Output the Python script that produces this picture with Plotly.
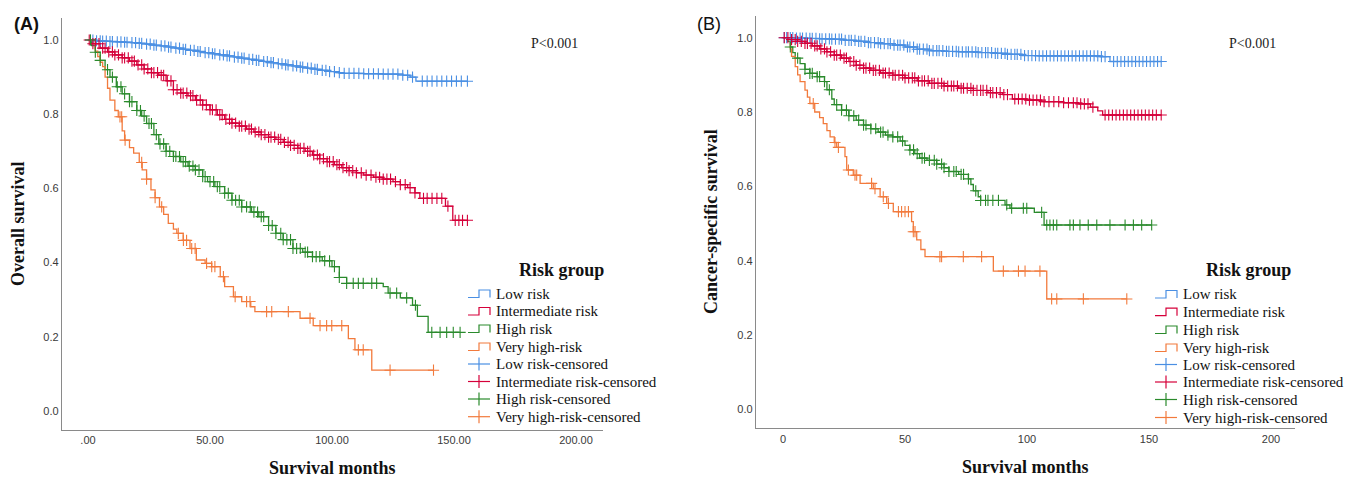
import plotly.graph_objects as go

W, H = 1354, 477

# ---------------- DATA ----------------
# Panel A: Overall survival
a_low_t = [0, 3, 6, 9, 12, 15, 18, 21, 24, 27, 30, 33, 36, 39, 42, 45, 48, 51, 54, 57, 60, 63, 66, 69, 72, 75, 78,
           81, 84, 87, 90, 93, 96, 99, 102, 105, 113, 121, 129, 132, 134.4]
a_low_s = [1.0, 0.998, 0.997, 0.996, 0.995, 0.994, 0.993, 0.991, 0.989, 0.986, 0.984, 0.981, 0.978, 0.975, 0.972,
           0.969, 0.966, 0.963, 0.960, 0.957, 0.954, 0.951, 0.948, 0.945, 0.942, 0.939, 0.936, 0.933, 0.930, 0.927,
           0.924, 0.921, 0.918, 0.915, 0.912, 0.910, 0.909, 0.908, 0.905, 0.900, 0.889]
a_low_c = [1, 2, 3.5, 5, 6, 7.5, 9, 10, 12, 13.5, 15, 16, 18, 19.5, 21, 22, 24, 25.5, 27, 28, 30, 31.5, 33, 34, 36,
           37.5, 39, 40, 42, 43.5, 45, 46, 48, 49.5, 51, 52, 54, 55.5, 57, 58, 60, 61.5, 63, 64, 66, 67.5, 69, 70, 72,
           73.5, 75, 76, 78, 79.5, 81, 82, 84, 85.5, 87, 88, 90, 91.5, 93, 94, 96, 97.5, 99, 101, 103, 105, 107, 109,
           111, 113, 115, 117, 119, 121, 123, 125, 127, 129, 131, 133, 137, 139, 141, 143, 145, 147, 149, 151, 153,
           155.5]

a_int_t = [0, 2, 5, 8, 11, 14, 17, 20, 23, 26, 29, 32, 35, 38, 41, 44, 47, 50, 53, 56, 59, 62, 65, 68, 71, 74, 77,
           80, 83, 86, 89, 92, 95, 98, 101, 104, 107, 110, 113, 117, 121, 125, 128, 131, 134, 136, 146.5, 149.5]
a_int_s = [1.0, 0.99, 0.978, 0.968, 0.96, 0.952, 0.943, 0.933, 0.922, 0.912, 0.905, 0.89, 0.866, 0.857, 0.85, 0.838,
           0.825, 0.812, 0.798, 0.786, 0.776, 0.768, 0.76, 0.752, 0.745, 0.738, 0.732, 0.724, 0.716, 0.708, 0.700,
           0.69, 0.68, 0.672, 0.664, 0.656, 0.648, 0.642, 0.636, 0.63, 0.625, 0.618, 0.61, 0.602, 0.588, 0.573,
           0.552, 0.514]
a_int_c = [0.5, 2, 3, 4.5, 6, 7, 8.5, 10, 11, 12.5, 14, 15, 16.5, 18, 19, 20.5, 22, 23, 24.5, 26, 27, 28.5, 30, 31,
           32.5, 34, 35, 36.5, 38, 39, 40.5, 42, 43, 44.5, 46, 47, 48.5, 50, 51, 52.5, 54, 55, 56.5, 58, 59, 60.5, 62,
           63, 64.5, 66, 67, 68.5, 70, 71, 72.5, 74, 75, 76.5, 78, 79, 80.5, 82, 83, 84.5, 86, 87, 88.5, 90, 91, 92.5,
           94, 95, 96.5, 98, 99, 100.5, 102, 103, 104.5, 106, 107, 108.5, 110, 112, 114, 116, 118, 119.5, 121, 122.5,
           124, 126, 128, 130, 132, 134, 137.5, 139, 141, 143, 145, 147.5, 150.5, 152, 153.5, 155.5]

a_high_t = [0, 1.5, 3, 5, 7, 9, 11.6, 14, 17, 20, 22, 24, 27, 29, 32, 35, 38, 41, 44, 47, 49, 52, 56, 59, 63, 67,
            70, 74, 77, 80, 84, 88, 92, 96, 100, 103, 106, 121, 123, 128, 133, 135, 139.4]
a_high_s = [1.0, 0.985, 0.967, 0.945, 0.92, 0.9, 0.874, 0.855, 0.834, 0.81, 0.795, 0.775, 0.745, 0.72, 0.70, 0.686,
            0.672, 0.66, 0.65, 0.632, 0.618, 0.605, 0.587, 0.568, 0.55, 0.536, 0.524, 0.5, 0.479, 0.462, 0.438,
            0.428, 0.416, 0.405, 0.389, 0.36, 0.344, 0.335, 0.318, 0.305, 0.285, 0.255, 0.212]
a_high_c = [1, 3, 5, 8, 10, 12, 13.5, 15, 17, 18, 20, 21.5, 23, 25, 26, 28, 29.5, 31, 32, 33.5, 35, 36, 37.5, 39, 40,
            41.5, 43, 44, 45.5, 47, 48, 50, 51.5, 53, 54, 56, 57.5, 59, 60.5, 62, 63, 65, 66.5, 68, 69.5, 71, 72, 74,
            75.5, 77, 79, 80, 81.5, 83, 84, 85.5, 87, 89, 90, 92, 93.5, 95, 97, 99, 101, 103, 106, 108.7, 110.8,
            112.8, 116.3, 118.3, 123.8, 126.5, 130.6, 134.2, 140.9, 144.3, 147, 149.7, 152.5]

a_vh_t = [0, 3, 4, 5, 6, 7, 8, 9, 11, 12.4, 14, 15, 17, 18.7, 21, 22.2, 24, 25.8, 27.5, 29.3, 31, 32.9, 35, 36.4,
          39, 41.8, 44.4, 48, 50.7, 54.2, 56, 59.6, 63, 66.7, 68.4, 86.9, 92.3, 106.7, 109.4, 116.3]
a_vh_s = [1.0, 0.97, 0.955, 0.94, 0.928, 0.9, 0.87, 0.838, 0.81, 0.793, 0.755, 0.73, 0.71, 0.695, 0.67, 0.65, 0.625,
          0.596, 0.575, 0.55, 0.53, 0.506, 0.49, 0.479, 0.46, 0.438, 0.407, 0.398, 0.389, 0.362, 0.335, 0.308, 0.295,
          0.281, 0.268, 0.25, 0.23, 0.195, 0.165, 0.11]
a_vh_c = [13.1, 13.8, 15.2, 22, 24, 27.5, 30.2, 37, 39.1, 40.4, 42.5, 43.9, 48.6, 50.7, 52, 55.5, 60.3, 65, 66.4,
          73.2, 75.3, 82.1, 91, 95.1, 97.8, 99.9, 104, 110.8, 112.8, 123.8, 141.6]

# Panel B: Cancer-specific survival
b_low_t = [0, 5, 10, 15, 20, 25, 30, 35, 40, 45, 50, 55, 60, 66, 72, 80, 86, 92, 98, 105, 130, 134]
b_low_s = [1.0, 0.999, 0.998, 0.997, 0.996, 0.993, 0.99, 0.987, 0.984, 0.98, 0.975, 0.969, 0.965, 0.963, 0.962,
           0.96, 0.958, 0.955, 0.952, 0.951, 0.949, 0.936]
b_low_c = [0.5, 1.5, 3, 4, 5.5, 7, 8, 9.5, 11, 12, 13.5, 15, 16, 17.5, 19, 20, 21.5, 23, 24, 25.5, 27, 28, 29.5, 31,
           32, 33.5, 35, 36, 37.5, 39, 40, 41.5, 43, 44, 45.5, 47, 48, 49.5, 51, 52, 53.5, 55, 56, 57.5, 59, 60,
           61.5, 63, 64, 65.5, 67, 68, 69.5, 71, 72, 73.5, 75, 76, 77.5, 79, 80, 81.5, 83, 84, 85.5, 87, 88, 89.5,
           91, 92, 93.5, 95, 96, 97.5, 99, 100.5, 102, 103.5, 105, 106.5, 108, 109.5, 111, 112.5, 114, 115.5, 117,
           118.5, 120, 121.5, 123, 124.5, 126, 127.5, 129, 130.5, 132, 135.5, 137, 138.5, 140, 141.5, 143, 144.5,
           146, 147.5, 149, 150.5, 152, 153.5, 155]

b_int_t = [0, 3, 6, 9, 12, 15, 18, 21, 24, 27, 30, 33, 36, 40, 45, 50, 55, 60, 66, 72, 78, 84, 90, 94, 100, 106,
           115, 121, 126, 129, 131]
b_int_s = [1.0, 0.995, 0.99, 0.985, 0.978, 0.97, 0.962, 0.953, 0.945, 0.936, 0.926, 0.918, 0.912, 0.905, 0.899,
           0.892, 0.884, 0.877, 0.87, 0.864, 0.858, 0.852, 0.847, 0.835, 0.832, 0.828, 0.825, 0.822, 0.813, 0.803,
           0.792]
b_int_c = [0.5, 2, 3.5, 5, 6, 7.5, 9, 10, 11.5, 13, 14, 15.5, 17, 18, 19.5, 21, 22, 23.5, 25, 26, 27.5, 29, 30,
           31.5, 33, 34, 35.5, 37, 38, 39.5, 41, 42, 43.5, 45, 46, 47.5, 49, 50, 51.5, 53, 54, 55.5, 57, 58, 59.5,
           61, 62, 63.5, 65, 66, 67.5, 69, 70, 71.5, 73, 74, 75.5, 77, 78, 79.5, 81, 82, 83.5, 85, 86, 87.5, 89, 90.5,
           92, 95, 96.5, 98, 99.5, 101, 102.5, 104, 105.5, 107, 109, 111, 113, 115, 117, 119, 120.5, 122, 123.5, 125,
           127, 132, 133.5, 135, 136.5, 138, 139.5, 141, 142.5, 144, 145.5, 147, 148.5, 150, 151.5, 153, 155]

b_high_t = [0, 2, 3, 4, 5, 7, 9, 11, 14, 17, 18, 20, 21, 24, 27, 30, 33, 36, 39, 42, 45, 48, 50, 52, 54, 56, 59,
            63, 66, 68, 72, 76, 77, 78, 80, 81, 91, 93, 103, 107]
b_high_s = [1.0, 0.99, 0.975, 0.96, 0.945, 0.93, 0.915, 0.904, 0.895, 0.882, 0.86, 0.835, 0.82, 0.805, 0.79, 0.778,
            0.765, 0.755, 0.746, 0.738, 0.733, 0.722, 0.71, 0.698, 0.688, 0.676, 0.67, 0.66, 0.65, 0.64, 0.632,
            0.62, 0.605, 0.588, 0.572, 0.562, 0.55, 0.541, 0.53, 0.496]
b_high_c = [3, 6, 9, 11, 12, 14, 15, 17, 19, 22, 24, 26, 27, 29, 31, 33, 34, 36, 38, 40, 41, 43, 45, 47, 49, 52, 53.5,
            55, 57, 58, 60, 62, 63, 65, 66, 68, 70, 71, 73, 74, 76, 79, 81, 83, 84, 86, 88.3, 91.7, 93.7, 98.5, 99.9,
            106, 108.1, 109.4, 110.8, 112.2, 117.6, 119, 121.7, 125.1, 128.6, 134, 140.2, 143.6, 147, 151.1]

b_vh_t = [0, 3, 3.5, 5, 6, 7, 9, 10, 11, 13, 15, 16.5, 18, 19.3, 21, 22, 25.4, 26.1, 28.8, 31.6, 37, 39.8, 42.5, 45.2,
          52.7, 53.4, 54.8, 56.5, 58.2, 86.2, 108.1]
b_vh_s = [1.0, 0.97, 0.95, 0.922, 0.9, 0.882, 0.859, 0.84, 0.823, 0.8, 0.785, 0.769, 0.75, 0.733, 0.718, 0.705, 0.68,
          0.644, 0.63, 0.608, 0.594, 0.572, 0.554, 0.532, 0.505, 0.478, 0.456, 0.43, 0.411, 0.372, 0.297]
b_vh_c = [12.4, 21.3, 22.7, 26.8, 29.5, 30.2, 36.3, 37.7, 41.1, 43.2, 47.3, 48.6, 50, 51.4, 53.4, 54.1, 64.3, 65,
          73.9, 81.4, 90.3, 96.5, 99.2, 105.3, 110.1, 112.2, 123.1, 140.9]

groups = ["Low risk", "Intermediate risk", "High risk", "Very high-risk"]
censored_labels = ["Low risk-censored", "Intermediate risk-censored", "High risk-censored", "Very high-risk-censored"]
colors = ["#4a8fe3", "#d5003a", "#2a8a2c", "#f27a3c"]

panel_a = [(a_low_t, a_low_s, a_low_c), (a_int_t, a_int_s, a_int_c),
           (a_high_t, a_high_s, a_high_c), (a_vh_t, a_vh_s, a_vh_c)]
panel_b = [(b_low_t, b_low_s, b_low_c), (b_int_t, b_int_s, b_int_c),
           (b_high_t, b_high_s, b_high_c), (b_vh_t, b_vh_s, b_vh_c)]

x_ticks_a = [0, 50, 100, 150, 200]
x_ticktext_a = [".00", "50.00", "100.00", "150.00", "200.00"]
x_ticks_b = [0, 50, 100, 150, 200]
x_ticktext_b = ["0", "50", "100", "150", "200"]
y_ticks = [0.0, 0.2, 0.4, 0.6, 0.8, 1.0]
y_ticktext = ["0.0", "0.2", "0.4", "0.6", "0.8", "1.0"]


def surv_at(times, surv, t):
    val = surv[0]
    for ti, si in zip(times, surv):
        if ti <= t:
            val = si
        else:
            break
    return val


fig = go.Figure()


def add_panel(data, xa, ya):
    # step lines
    for (t, s, c), col in zip(data, colors):
        end = max(c[-1], t[-1])
        fig.add_trace(go.Scatter(x=list(t) + [end], y=list(s) + [s[-1]], mode="lines",
                                 line=dict(color=col, width=1.3, shape="hv"),
                                 xaxis=xa, yaxis=ya, showlegend=False, hoverinfo="skip"))
    # censor marks
    for (t, s, c), col in zip(data, colors):
        cy = [surv_at(t, s, ci) for ci in c]
        fig.add_trace(go.Scatter(x=c, y=cy, mode="markers",
                                 marker=dict(symbol="cross-thin", size=8, line=dict(color=col, width=1.1)),
                                 xaxis=xa, yaxis=ya, showlegend=False, hoverinfo="skip"))


add_panel(panel_a, "x", "y")
add_panel(panel_b, "x2", "y2")


def px(x):
    return x / W


def py(y):
    return 1 - y / H


tick_font = dict(family="Liberation Sans, Arial, sans-serif", size=11, color="#3a3a3a")
axis_common = dict(showgrid=False, zeroline=False, showline=True, linecolor="#8a8a8a", linewidth=1.3,
                   ticks="", tickfont=tick_font, fixedrange=True)

fig.update_layout(
    width=W, height=H,
    margin=dict(l=0, r=0, t=0, b=0),
    paper_bgcolor="white", plot_bgcolor="white",
    showlegend=False,
    xaxis=dict(domain=[px(62), px(603)], range=[-10.66, 211.07], tickvals=x_ticks_a, ticktext=x_ticktext_a,
               anchor="y", **axis_common),
    yaxis=dict(domain=[py(430), py(18)], range=[-0.0512, 1.0593], tickvals=y_ticks, ticktext=y_ticktext,
               anchor="x", **axis_common),
    xaxis2=dict(domain=[px(756), px(1295)], range=[-11.07, 209.84], tickvals=x_ticks_b, ticktext=x_ticktext_b,
                anchor="y2", **axis_common),
    yaxis2=dict(domain=[py(428.3), py(16)], range=[-0.0511, 1.0584], tickvals=y_ticks, ticktext=y_ticktext,
                anchor="x2", **axis_common),
)

serif = "Liberation Serif, Times New Roman, serif"
ann = []
shapes = []


def text_at(x, y, text, font, xanchor="center", angle=0):
    ann.append(dict(x=px(x), y=py(y), text=text, showarrow=False, xref="paper", yref="paper",
                    xanchor=xanchor, yanchor="middle", textangle=angle, font=font))


# panel letters
text_at(26, 24, "<b>(A)</b>", dict(family="Liberation Sans, Arial, sans-serif", size=18, color="#111"))
text_at(709, 24, "(B)", dict(family="Liberation Sans, Arial, sans-serif", size=18, color="#111"))
# p values
text_at(554, 43, "P&lt;0.001", dict(family=serif, size=14, color="#222"))
text_at(1252, 43, "P&lt;0.001", dict(family=serif, size=14, color="#222"))
# axis titles
title_font = dict(family=serif, size=18, color="#111")
text_at(332.5, 468, "<b>Survival months</b>", title_font)
text_at(1025.5, 467, "<b>Survival months</b>", title_font)
text_at(18, 224, "<b>Overall survival</b>", title_font, angle=-90)
text_at(711, 222, "<b>Cancer-specific survival</b>", title_font, angle=-90)


def add_legend(sx0, sx1, tx, title_x, rows):
    text_at(title_x, 270, "<b>Risk group</b>", dict(family=serif, size=18, color="#111"))
    smid = (sx0 + sx1) / 2
    labels = groups + censored_labels
    for i, (lab, ry) in enumerate(zip(labels, rows)):
        col = colors[i % 4]
        text_at(tx, ry, lab, dict(family=serif, size=15, color="#111"), xanchor="left")
        if i < 4:
            lo, hi = ry + 4, ry - 3.5
            path = (f"M {px(sx0)},{py(lo)} L {px(smid)},{py(lo)} L {px(smid)},{py(hi)} "
                    f"L {px(sx1)},{py(hi)} L {px(sx1)},{py(lo)}")
            shapes.append(dict(type="path", path=path, xref="paper", yref="paper",
                               line=dict(color=col, width=1.2)))
        else:
            shapes.append(dict(type="line", x0=px(sx0), x1=px(sx1), y0=py(ry), y1=py(ry),
                               xref="paper", yref="paper", line=dict(color=col, width=1.2)))
            shapes.append(dict(type="line", x0=px(smid), x1=px(smid), y0=py(ry - 6.5), y1=py(ry + 6.5),
                               xref="paper", yref="paper", line=dict(color=col, width=1.2)))


add_legend(468, 490, 494, 561, [293.5, 311, 328.5, 346.5, 364, 381.5, 399, 416.7])
add_legend(1155, 1177, 1181, 1248, [294, 311.7, 329.5, 347.5, 364.5, 382, 399.5, 417.5])

fig.update_layout(annotations=ann, shapes=shapes)

fig.write_html("out.html")
